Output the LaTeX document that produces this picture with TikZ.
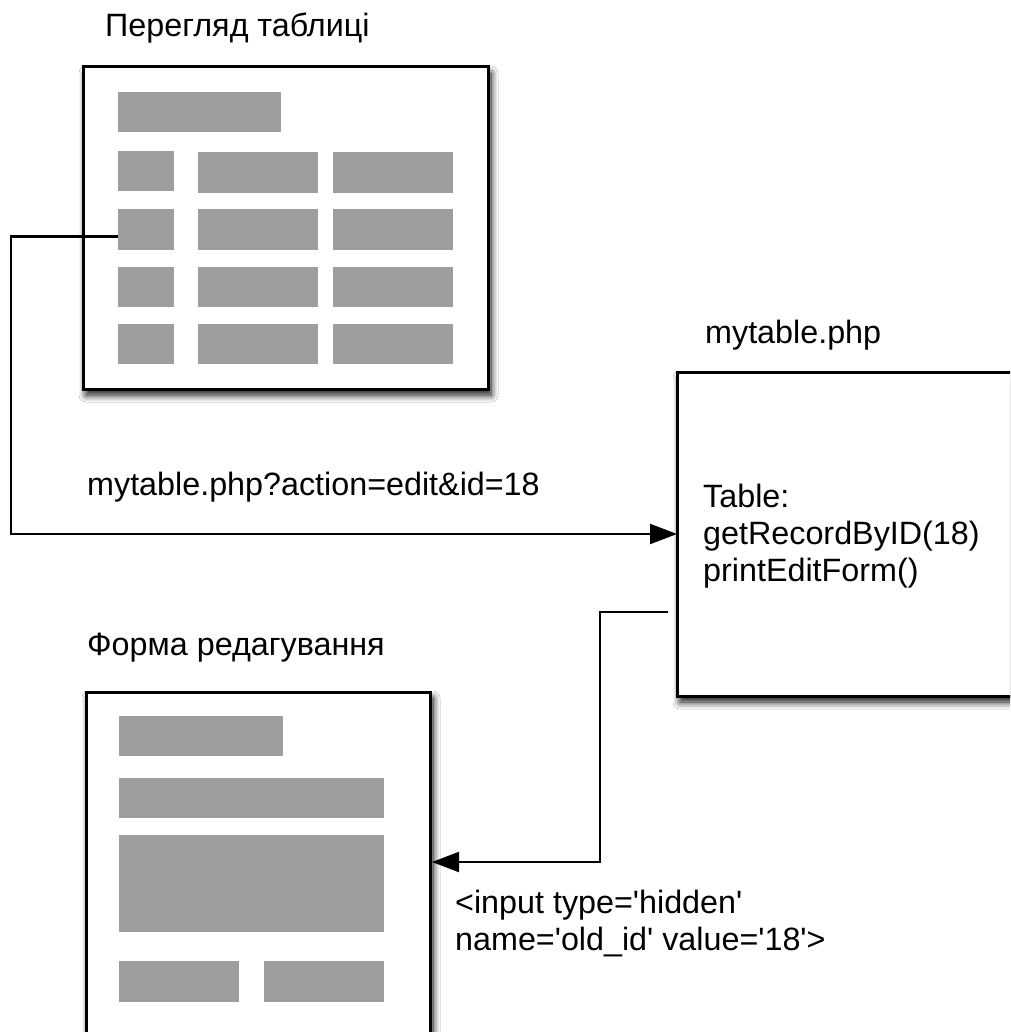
\documentclass[tikz,border=0pt]{standalone}
\usepackage{fontspec}
\setmainfont{Liberation Sans}
\usetikzlibrary{arrows.meta,shadows.blur,calc}
\definecolor{cellgray}{RGB}{158,158,158}
\newcommand{\sq}{\textquotesingle}

\begin{document}
\begin{tikzpicture}[x=1pt,y=-1pt,
  panel/.style={draw=black, line width=3pt, fill=white, inner sep=0pt, outer sep=0pt,
    anchor=north west,
    blur shadow={shadow xshift=3pt, shadow yshift=-6pt, shadow blur radius=7pt,
      shadow blur steps=10, shadow opacity=95}},
  cell/.style={fill=cellgray, draw=none, inner sep=0pt, outer sep=0pt, anchor=north west},
  lbl/.style={anchor=base west, inner sep=0pt, font=\fontsize{32.3}{38}\selectfont},
  conn/.style={draw=black, line width=2.2pt},
  tip/.style={-{Triangle[length=27pt,width=20pt]}}
]
\useasboundingbox (0,0) rectangle (1010,1032);
\fill[white] (0,0) rectangle (1010,1032);
\clip (0,0) rectangle (1010,1032);

% table view window
\node[panel, minimum width=405pt, minimum height=322pt] (list) at (83,67) {};
\fill[cellgray] (118,92) rectangle (281,132);
\node[cell, minimum width=56pt, minimum height=41pt] (rowcell) at (118,209) {};
\foreach \ya/\yb in {151/191, 267/307, 324/364} {
  \fill[cellgray] (118,\ya) rectangle (174,\yb);
}
\foreach \ya/\yb in {152/193, 209/250, 267/307, 324/364} {
  \fill[cellgray] (198,\ya) rectangle (318,\yb);
  \fill[cellgray] (333,\ya) rectangle (453,\yb);
}

% script box
\node[panel, minimum width=360pt, minimum height=324pt] (php) at (677,372) {};

% edit form window
\node[panel, minimum width=344pt, minimum height=360pt] (form) at (86,692) {};
\fill[cellgray] (119,716) rectangle (283,756);
\fill[cellgray] (119,778) rectangle (384,818);
\fill[cellgray] (119,835) rectangle (384,932);
\fill[cellgray] (119,961) rectangle (239,1002);
\fill[cellgray] (264,961) rectangle (384,1002);

% connectors
\draw[conn,tip] ($(rowcell.west)+(0,7)$) -- ++(-107,0) |- (php.west);
\coordinate (ret) at ($(php.west)+(-9,78)$);
\draw[conn,tip] (ret) -- ++(-68,0) |- ($(form.north east)+(2,170)$);

% labels
\node[lbl] (ttl1) at (105,37) {Перегляд таблиці};
\node[lbl] (ttl2) at (705,343) {mytable.php};
\node[lbl] (url) at (87,495) {mytable.php?action=edit\&id=18};
\node[lbl] (c1) at (703,507) {Table:};
\node[lbl] (c2) at (703,544) {getRecordByID(18)};
\node[lbl] (c3) at (703,581) {printEditForm()};
\node[lbl] (ttl3) at (87,655) {Форма редагування};
\node[lbl] (in1) at (455,913) {<input type=\sq hidden\sq};
\node[lbl] (in2) at (455,950) {name=\sq old\_id\sq{} value=\sq 18\sq>};
\end{tikzpicture}
\end{document}
